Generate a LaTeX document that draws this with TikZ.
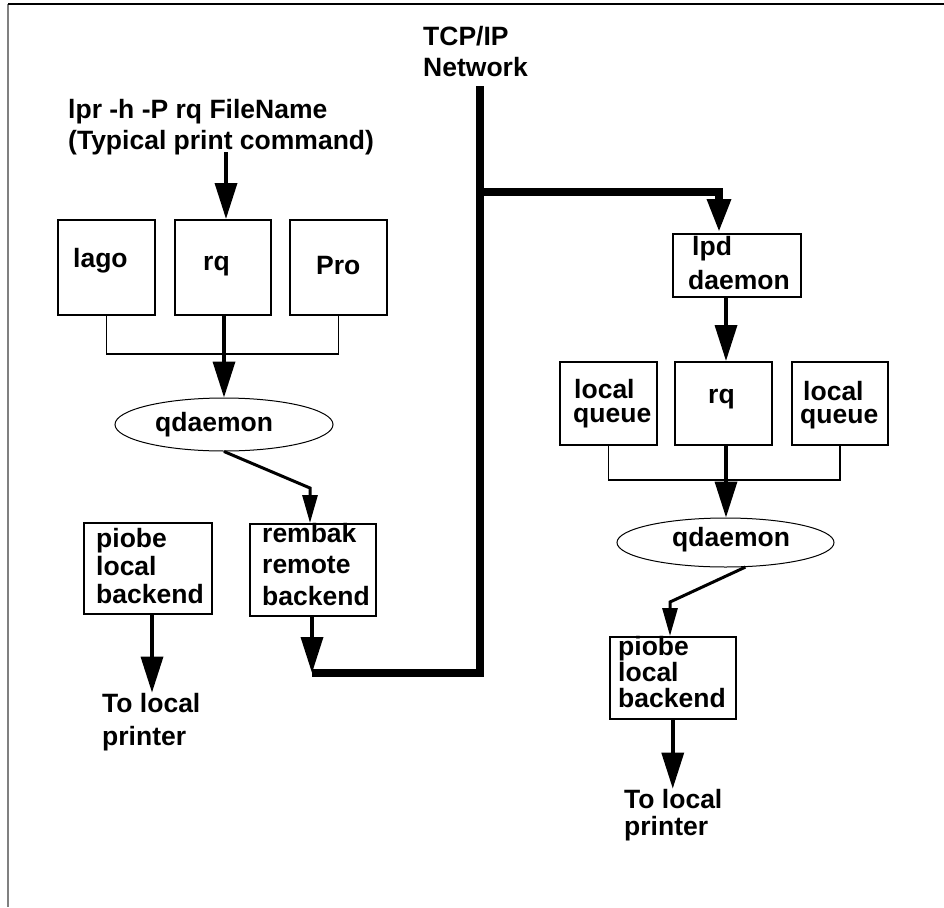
\documentclass[tikz,border=0pt]{standalone}
\usepackage{fontspec}
\setmainfont{Liberation Sans}
\usetikzlibrary{arrows.meta,shapes.geometric}
\tikzset{
  bigtip/.tip={Triangle[width=22pt,length=36pt]},
  smalltip/.tip={Triangle[width=15pt,length=28pt]},
  nettip/.tip={Triangle[width=22pt,length=34pt]},
  box/.style={draw, line width=1.5pt, inner sep=0pt, anchor=north west},
  oval/.style={draw, ellipse, line width=1pt, inner sep=0pt},
  txt/.style={anchor=base west, inner sep=0pt, align=left,
              font=\bfseries\fontsize{26.5}{#1}\selectfont},
  txt/.default=31,
  thinline/.style={line width=1.5pt},
  shaft/.style={line width=3.5pt},
  diag/.style={line width=3pt},
  net/.style={line width=8.5pt, line join=miter},
}
\begin{document}
\begin{tikzpicture}[x=1pt,y=-1pt]
\useasboundingbox (0,0) rectangle (944,907);
% frame
\coordinate (ftl) at (8,4);
\coordinate (fbl) at (8,907);
\coordinate (ftr) at (944,4);
\draw[gray, line width=2pt] (ftl) -- (fbl);
\draw[line width=1.5pt] (ftl) -- (ftr);

% boxes
\node[box, minimum width=97pt, minimum height=95pt] (lago) at (57,219) {};
\node[box, minimum width=96pt, minimum height=95pt] (rq1) at (174,219) {};
\node[box, minimum width=97pt, minimum height=95pt] (pro) at (289,219) {};
\node[box, minimum width=128pt, minimum height=91pt] (piobe1) at (83,522) {};
\node[box, minimum width=126pt, minimum height=92pt] (rembak) at (249,523) {};
\node[box, minimum width=128pt, minimum height=63pt] (lpd) at (672,233) {};
\node[box, minimum width=97pt, minimum height=83pt] (lq1) at (559,361) {};
\node[box, minimum width=97pt, minimum height=83pt] (rq2) at (674,361) {};
\node[box, minimum width=96pt, minimum height=83pt] (lq2) at (791,361) {};
\node[box, minimum width=126pt, minimum height=82pt] (piobe2) at (609,636) {};
\node[oval, minimum width=218pt, minimum height=53pt] (qd1) at (224,424.5) {};
\node[oval, minimum width=217pt, minimum height=49pt] (qd2) at (725.5,542.5) {};

% texts (multi-line nodes are placed at the baseline of their last line)
\node[txt=32] (tcp) at (423,77) {TCP/IP\\Network};
\node[txt] (cmd) at (68,149) {lpr -h -P rq FileName\\(Typical print command)};
\node[txt] (tlago) at (73,267) {lago};
\node[txt] (trq1) at (203,270) {rq};
\node[txt] (tpro) at (316,274) {Pro};
\node[txt] (tqd1) at (155,431) {qdaemon};
\node[txt=28] (tpiobe1) at (96,603) {piobe\\local\\backend};
\node[txt=31.5] (trembak) at (262,605) {rembak\\remote\\backend};
\node[txt=33] (pr1) at (102,745) {To local\\printer};
\node[txt=34] (tlpd) at (692,289) {lpd\\\hspace*{-4pt}daemon};
\node[txt=24] (tlq1) at (574,422) {local\\\hspace*{-1pt}queue};
\node[txt] (trq2) at (708,403) {rq};
\node[txt=23] (tlq2) at (803,423) {local\\\hspace*{-3pt}queue};
\node[txt] (tqd2) at (672,546) {qdaemon};
\node[txt=26] (tpiobe2) at (618,707) {piobe\\local\\backend};
\node[txt=27] (pr2) at (624,835) {To local\\printer};

% connectors, left host
\coordinate (c1) at (226,152);
\draw[shaft, -{bigtip}] (c1) -- (c1 |- rq1.north);
\coordinate (j1) at (224,354);
\draw[thinline] (lago.south) |- (j1) -| (pro.south);
\draw[shaft, -{bigtip}] (j1 |- rq1.south) -- (j1 |- qd1.north);
\coordinate (b1) at (310,488);
\draw[diag, -{smalltip}] (qd1.south) -- (b1) -- (b1 |- rembak.north);
\coordinate (a1) at (152,693);
\draw[shaft, -{bigtip}] (a1 |- piobe1.south) -- (a1 |- pr1.north);

% network
\coordinate (nr) at (312,673);
\draw[shaft, -{bigtip}] (nr |- rembak.south) -- (nr);
\coordinate (ntop) at (480,86);
\coordinate (nbot) at (480,673);
\draw[net] (ntop) -- (nbot) -- (nr);
\coordinate (nb) at (480,192);
\coordinate (nl) at (719,192);
\draw[net, -{nettip}] (nb) -- (nl) -- (nl |- lpd.north);

% right host
\coordinate (l1) at (726,296);
\draw[shaft, -{bigtip}] (l1 |- lpd.south) -- (l1 |- rq2.north);
\coordinate (j2) at (726,480);
\draw[thinline] (lq1.south) |- (j2) -| (lq2.south);
\draw[shaft, -{bigtip}] (j2 |- rq2.south) -- (j2 |- qd2.north);
\coordinate (b2) at (670,602);
\draw[diag, -{smalltip}] (qd2.-51) -- (b2) -- (b2 |- piobe2.north);
\draw[shaft, -{bigtip}] (piobe2.south) -- (piobe2.south |- pr2.north);
\end{tikzpicture}
\end{document}
